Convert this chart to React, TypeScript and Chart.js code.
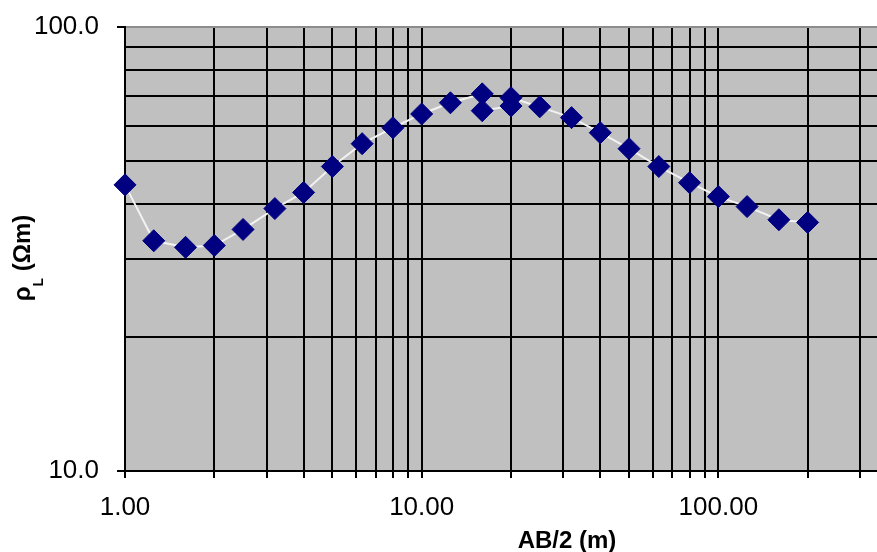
import { useEffect, useRef } from 'react';
import { Chart, registerables } from 'chart.js';

Chart.register(...registerables);

// AB/2 spacing (m)
const abHalf = [1, 1.25, 1.6, 2, 2.5, 3.2, 4, 5, 6.3, 8, 10, 12.5, 16, 16, 20, 20, 25, 32, 40, 50, 63, 80, 100, 125, 160, 200];
// apparent resistivity (Ohm m)
const rhoApparent = [44.1, 33.0, 31.9, 32.2, 35.0, 39.0, 42.4, 48.5, 54.6, 59.3, 63.7, 67.5, 70.7, 64.8, 66.4, 69.3, 66.1, 62.5, 57.8, 53.2, 48.5, 44.6, 41.5, 39.4, 36.8, 36.3];

// gridline positions
const xGridValues = [1, 2, 3, 4, 5, 6, 7, 8, 9, 10, 20, 30, 40, 50, 60, 70, 80, 90, 100, 200, 300, 400, 500, 600, 700, 800, 900, 1000];
const yGridValues = [10, 20, 30, 40, 50, 60, 70, 80, 90, 100];

const xTickValues = [1, 10, 100];
const xTickLabels = ['1.00', '10.00', '100.00'];
const yTickValues = [10, 100];
const yTickLabels = ['10.0', '100.0'];

const xTitle = 'AB/2 (m)';
const yTitleMain = 'ρ';
const yTitleSub = 'L';
const yTitleRest = ' (Ωm)';

const FONT = '"Liberation Sans", Arial, sans-serif';

const plotBg = {
  id: 'plotBg',
  beforeDraw(chart: any) {
    const { ctx, chartArea: a } = chart;
    ctx.save();
    ctx.fillStyle = '#c0c0c0';
    ctx.fillRect(a.left, a.top, a.right - a.left, a.bottom - a.top);
    ctx.restore();
  },
};

const axisTitles = {
  id: 'axisTitles',
  afterDraw(chart: any) {
    const ctx = chart.ctx;
    ctx.save();
    ctx.fillStyle = '#000';
    ctx.font = `bold 24px ${FONT}`;
    ctx.textAlign = 'center';
    ctx.textBaseline = 'middle';
    ctx.fillText(xTitle, 567, 541);

    // y title, rotated, with subscript
    const mainFont = `bold 24px ${FONT}`;
    const subFont = `bold 14px ${FONT}`;
    ctx.font = mainFont;
    const w1 = ctx.measureText(yTitleMain).width;
    const w3 = ctx.measureText(yTitleRest).width;
    ctx.font = subFont;
    const w2 = ctx.measureText(yTitleSub).width;
    const total = w1 + w2 + w3;
    ctx.translate(30, 258);
    ctx.rotate(-Math.PI / 2);
    ctx.textAlign = 'left';
    ctx.textBaseline = 'alphabetic';
    let x = -total / 2;
    ctx.font = mainFont;
    ctx.fillText(yTitleMain, x, 0);
    x += w1;
    ctx.font = subFont;
    ctx.fillText(yTitleSub, x, 13);
    x += w2;
    ctx.font = mainFont;
    ctx.fillText(yTitleRest, x, 0);
    ctx.restore();
  },
};

export default function App() {
  const ref = useRef<HTMLCanvasElement>(null);

  useEffect(() => {
    const points = abHalf.map((x, i) => ({ x, y: rhoApparent[i] }));
    const chart = new Chart(ref.current as HTMLCanvasElement, {
      type: 'scatter',
      data: {
        datasets: [
          {
            data: points,
            showLine: true,
            borderColor: '#f2f2f2',
            borderWidth: 2,
            pointStyle: 'rectRot',
            pointRadius: 11,
            pointHoverRadius: 11,
            pointBackgroundColor: '#000080',
            pointBorderColor: '#000080',
            pointBorderWidth: 1,
            clip: false,
          } as any,
        ],
      },
      options: {
        responsive: false,
        animation: false,
        events: [],
        layout: { padding: { top: 27, right: 1, left: 0, bottom: 0 } },
        plugins: {
          legend: { display: false },
          tooltip: { enabled: false },
        },
        scales: {
          x: {
            type: 'logarithmic',
            position: 'bottom',
            min: 1,
            max: 1000,
            grid: {
              color: '#000',
              lineWidth: 2,
              tickLength: 7,
              tickColor: '#000',
            },
            border: { display: true, color: '#000', width: 2 },
            ticks: {
              autoSkip: false,
              maxRotation: 0,
              minRotation: 0,
              padding: 14,
              color: '#000',
              font: { family: FONT, size: 26 },
              callback: (value: any) => {
                const i = xTickValues.indexOf(Number(value));
                return i >= 0 ? xTickLabels[i] : '';
              },
            },
            afterBuildTicks: (scale: any) => {
              scale.ticks = xGridValues.map((v) => ({ value: v }));
            },
            afterFit: (scale: any) => {
              scale.height = 81;
              scale.paddingLeft = 0;
              scale.paddingRight = 0;
            },
          },
          y: {
            type: 'logarithmic',
            position: 'left',
            min: 10,
            max: 100,
            grid: {
              color: (c: any) => (c.tick && c.tick.value === 100 ? '#8c8c8c' : '#000'),
              lineWidth: 2,
              tickLength: 8,
              tickColor: (c: any) =>
                c.tick && yTickValues.indexOf(c.tick.value) >= 0 ? '#000' : 'rgba(0,0,0,0)',
            },
            border: { display: true, color: '#000', width: 2 },
            ticks: {
              autoSkip: false,
              padding: 18,
              color: '#000',
              font: { family: FONT, size: 26 },
              callback: (value: any) => {
                const i = yTickValues.indexOf(Number(value));
                return i >= 0 ? yTickLabels[i] : '';
              },
            },
            afterBuildTicks: (scale: any) => {
              scale.ticks = yGridValues.map((v) => ({ value: v }));
            },
            afterFit: (scale: any) => {
              scale.width = 125;
              scale.paddingTop = 0;
              scale.paddingBottom = 0;
            },
          },
        },
      },
      plugins: [plotBg, axisTitles],
    });
    return () => chart.destroy();
  }, []);

  return (
    <div
      style={{
        position: 'fixed',
        left: 0,
        top: 0,
        width: 877,
        height: 552,
        overflow: 'hidden',
        background: '#fff',
      }}
    >
      <canvas ref={ref} width={1027} height={552} style={{ display: 'block' }} />
    </div>
  );
}
